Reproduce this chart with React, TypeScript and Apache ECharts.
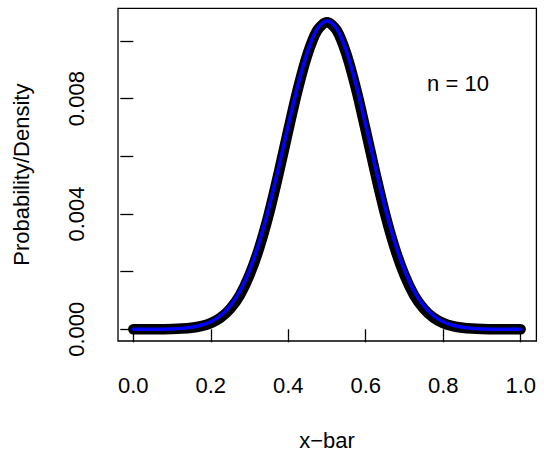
import React, { useEffect, useRef } from "react";
import * as echarts from "echarts";

// x-bar values
const xBar = [
  0, 0.025, 0.05, 0.075, 0.1, 0.125, 0.15, 0.175, 0.2, 0.225,
  0.25, 0.275, 0.3, 0.325, 0.35, 0.375, 0.4, 0.425, 0.45, 0.475,
  0.5,
  0.525, 0.55, 0.575, 0.6, 0.625, 0.65, 0.675, 0.7, 0.725, 0.75,
  0.775, 0.8, 0.825, 0.85, 0.875, 0.9, 0.925, 0.95, 0.975, 1,
];

// black points (probabilities)
const probability = [
  0, 0.000001, 0.000002, 0.000005, 0.00001, 0.000025, 0.000054, 0.00011, 0.000215, 0.0004,
  0.00071, 0.00118, 0.00188, 0.00282, 0.004, 0.0054, 0.0069, 0.00834, 0.00955, 0.01037,
  0.01065,
  0.01037, 0.00955, 0.00834, 0.0069, 0.0054, 0.004, 0.00282, 0.00188, 0.00118, 0.00071,
  0.0004, 0.000215, 0.00011, 0.000054, 0.000025, 0.00001, 0.000005, 0.000002, 0.000001, 0,
];

// blue curve (density)
const density = [
  0, 0.000001, 0.0000025, 0.000006, 0.000014, 0.000032, 0.00007, 0.00014, 0.00026, 0.00047,
  0.00081, 0.00132, 0.00205, 0.00302, 0.00422, 0.00561, 0.00708, 0.00848, 0.00965, 0.01043,
  0.0107,
  0.01043, 0.00965, 0.00848, 0.00708, 0.00561, 0.00422, 0.00302, 0.00205, 0.00132, 0.00081,
  0.00047, 0.00026, 0.00014, 0.00007, 0.000032, 0.000014, 0.000006, 0.0000025, 0.000001, 0,
];

const xTickLabels = ["0.0", "0.2", "0.4", "0.6", "0.8", "1.0"];
const yTickLabels = ["0.000", "0.004", "0.008"];

const FONT = "'Liberation Sans', Arial, Helvetica, sans-serif";
const FS = 22;

export default function App() {
  const ref = useRef<HTMLDivElement>(null);
  useEffect(() => {
    const chart = echarts.init(ref.current!, null, { renderer: "svg" });
    const option: any = {
      animation: false,
      textStyle: { fontFamily: FONT },
      grid: {
        left: 133.3,
        top: 40.97,
        width: 387.4,
        height: 288.33,
        containLabel: false,
        outerBoundsMode: "none",
      },
      xAxis: {
        type: "value",
        min: 0,
        max: 1,
        interval: 0.2,
        offset: 11.7,
        axisLine: { show: false },
        axisTick: { show: true, length: 13, lineStyle: { color: "#000", width: 1.3 } },
        splitLine: { show: false },
        axisLabel: {
          color: "#000",
          fontSize: FS,
          fontFamily: FONT,
          margin: 33,
          formatter: (v: number) => {
            const s = v.toFixed(1);
            return xTickLabels.includes(s) ? s : "";
          },
        },
      },
      yAxis: {
        type: "value",
        min: 0,
        max: 0.01,
        interval: 0.002,
        offset: 15.3,
        axisLine: { show: false },
        axisTick: { show: true, length: 13, lineStyle: { color: "#000", width: 1.3 } },
        splitLine: { show: false },
        axisLabel: {
          color: "#000",
          fontSize: FS,
          fontFamily: FONT,
          rotate: 90,
          margin: 30.6,
          formatter: (v: number) => {
            const s = v.toFixed(3);
            return yTickLabels.includes(s) ? s : "";
          },
        },
      },
      graphic: [
        {
          type: "rect",
          shape: { x: 118, y: 8.3, width: 418.4, height: 332.7 },
          style: { fill: "none", stroke: "#000", lineWidth: 1.3 },
          silent: true,
        },
        {
          type: "text",
          x: 327,
          y: 440,
          style: {
            text: "x\u2212bar",
            fontSize: FS,
            fontFamily: FONT,
            fill: "#000",
            textAlign: "center",
            textVerticalAlign: "middle",
          },
        },
        {
          type: "text",
          x: 21,
          y: 174.7,
          rotation: Math.PI / 2,
          style: {
            text: "Probability/Density",
            fontSize: FS,
            fontFamily: FONT,
            fill: "#000",
            textAlign: "center",
            textVerticalAlign: "middle",
          },
        },
        {
          type: "text",
          x: 458,
          y: 83.5,
          style: {
            text: "n = 10",
            fontSize: FS,
            fontFamily: FONT,
            fill: "#000",
            textAlign: "center",
            textVerticalAlign: "middle",
          },
        },
      ],
      series: [
        {
          type: "line",
          data: xBar.map((x, i) => [x, probability[i]]),
          showSymbol: false,
          clip: false,
          smooth: 0.3,
          lineStyle: { color: "#000", width: 10.5, cap: "round", join: "round" },
          z: 2,
        },
        {
          type: "line",
          data: xBar.map((x, i) => [x, density[i]]),
          showSymbol: false,
          clip: false,
          smooth: 0.3,
          lineStyle: { color: "#0000ff", width: 3.5, cap: "round", join: "round" },
          z: 3,
        },
      ],
    };
    chart.setOption(option);
    return () => chart.dispose();
  }, []);
  return (
    <div
      ref={ref}
      style={{ position: "absolute", left: 0, top: 0, width: 544, height: 456 }}
    />
  );
}
